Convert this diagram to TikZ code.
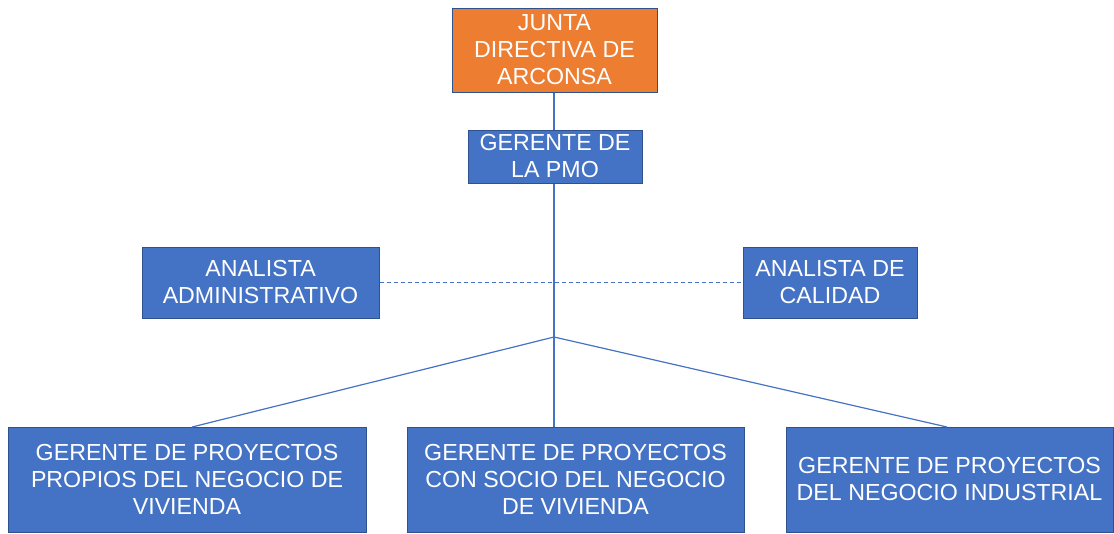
\documentclass[tikz,border=0pt]{standalone}
\usepackage{fontspec}
\setmainfont{Liberation Sans}
\definecolor{boxblue}{HTML}{4472C4}
\definecolor{boxorange}{HTML}{ED7D31}
\definecolor{edgeblue}{HTML}{2F528F}
\definecolor{lineblue}{HTML}{4472C4}
\begin{document}
\begin{tikzpicture}[x=1pt,y=-1pt,
  orgbox/.style={draw=edgeblue, line width=1pt, fill=boxblue, text=white, align=center, inner sep=0pt,
    font=\fontsize{23.2}{27}\selectfont},
  topbox/.style={orgbox, fill=boxorange},
  link/.style={draw=lineblue, line width=1.2pt},
  dashlink/.style={link, dash pattern=on 4pt off 3pt}
]
\useasboundingbox (0,0) rectangle (1114,533);
\node[topbox, minimum width=205pt, minimum height=84pt] (junta) at (554.5,50) {JUNTA\\DIRECTIVA DE\\ARCONSA};
\node[orgbox, minimum width=174pt, minimum height=53pt] (pmo) at (555,156.5) {GERENTE DE\\LA PMO};
\node[orgbox, minimum width=237pt, minimum height=71pt] (adm) at (260.5,282.5) {ANALISTA\\ADMINISTRATIVO};
\node[orgbox, minimum width=174pt, minimum height=71pt] (cal) at (830,282.5) {ANALISTA DE\\CALIDAD};
\node[orgbox, minimum width=358pt, minimum height=105pt] (gp1) at (187,479.5) {GERENTE DE PROYECTOS\\PROPIOS DEL NEGOCIO DE\\VIVIENDA};
\node[orgbox, minimum width=337pt, minimum height=105pt] (gp2) at (575.5,479.5) {GERENTE DE PROYECTOS\\CON SOCIO DEL NEGOCIO\\DE VIVIENDA};
\node[orgbox, minimum width=327pt, minimum height=105pt] (gp3) at (949.5,479.5) {GERENTE DE PROYECTOS\\DEL NEGOCIO INDUSTRIAL};
\coordinate (hub) at (554,337);
\coordinate (e1) at (192,427);
\coordinate (e3) at (947,427);
\draw[link] (junta.south -| hub) -- (pmo.north -| hub);
\draw[link] (pmo.south -| hub) -- (hub);
\draw[link] (hub) -- (gp2.north -| hub);
\draw[link] (hub) -- (e1);
\draw[link] (hub) -- (e3);
\draw[dashlink] (adm.east) -- (cal.west);
\end{tikzpicture}
\end{document}
